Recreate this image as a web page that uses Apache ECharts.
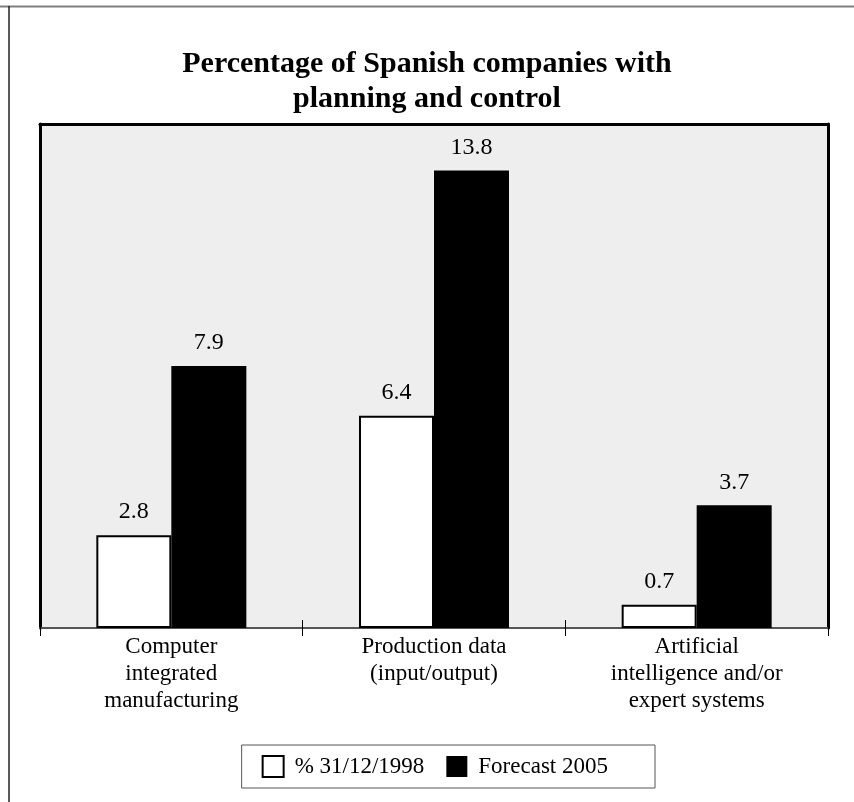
<!DOCTYPE html>
<html>
<head>
<meta charset="utf-8">
<script src="https://cdn.jsdelivr.net/npm/echarts@6/dist/echarts.min.js"></script>
<style>
html,body{margin:0;padding:0;background:#fff;}
#chart{width:854px;height:802px;}
</style>
</head>
<body>
<div id="chart"></div>
<script>
const titleText = 'Percentage of Spanish companies with\nplanning and control';
const categories = ['Computer\nintegrated\nmanufacturing', 'Production data\n(input/output)', 'Artificial\nintelligence and/or\nexpert systems'];
const seriesNames = ['% 31/12/1998', 'Forecast 2005'];
const values1998 = [2.8, 6.4, 0.7];
const values2005 = [7.9, 13.8, 3.7];

const serif = '"Liberation Serif", "DejaVu Serif", serif';
const chart = echarts.init(document.getElementById('chart'), null, {renderer: 'canvas'});

const option = {
  backgroundColor: '#ffffff',
  animation: false,
  title: {
    text: titleText,
    left: 'center',
    top: 42,
    textStyle: {fontFamily: serif, fontWeight: 'bold', fontSize: 30, lineHeight: 35, color: '#000'}
  },
  legend: {
    data: [
      {name: seriesNames[0], itemStyle: {color: '#fff', borderColor: '#000', borderWidth: 2}},
      {name: seriesNames[1], itemStyle: {color: '#000', borderWidth: 0}}
    ],
    right: 199,
    top: 745,
    orient: 'horizontal',
    icon: 'rect',
    itemWidth: 21,
    itemHeight: 21,
    itemGap: 22,
    padding: [10, 47, 10, 20],
    backgroundColor: '#fff',
    borderColor: '#555',
    borderWidth: 1,
    textStyle: {fontFamily: serif, fontSize: 23, color: '#000', padding: [0, 0, 0, 6]}
  },
  grid: {
    left: 40, right: 26, top: 124, bottom: 174,
    show: true, backgroundColor: '#eeeeee', borderWidth: 0
  },
  xAxis: [
    {
      type: 'category', data: categories, position: 'bottom',
      axisLine: {show: true, lineStyle: {color: '#555', width: 2}},
      axisTick: {show: true, inside: false, length: 8, lineStyle: {color: '#000', width: 1}},
      axisLabel: {fontFamily: serif, fontSize: 23, lineHeight: 27, color: '#000', margin: 5, interval: 0}
    },
    {
      type: 'category', data: categories, position: 'bottom',
      axisLine: {show: false},
      axisTick: {show: true, inside: true, length: 8, lineStyle: {color: '#000', width: 1}},
      axisLabel: {show: false}
    },
    {
      type: 'category', data: categories, position: 'top',
      axisLine: {show: true, lineStyle: {color: '#000', width: 3}},
      axisTick: {show: false}, axisLabel: {show: false}
    }
  ],
  yAxis: [
    {
      type: 'value', min: 0, max: 15.2, position: 'left',
      axisLine: {show: true, lineStyle: {color: '#000', width: 3}},
      axisTick: {show: false}, axisLabel: {show: false}, splitLine: {show: false}
    },
    {
      type: 'value', min: 0, max: 15.2, position: 'right',
      axisLine: {show: true, lineStyle: {color: '#000', width: 3}},
      axisTick: {show: false}, axisLabel: {show: false}, splitLine: {show: false}
    }
  ],
  series: [
    {
      name: seriesNames[0], type: 'bar', data: values1998,
      xAxisIndex: 0, yAxisIndex: 0,
      barWidth: 75, barGap: '0%',
      itemStyle: {color: '#fff', borderColor: '#000', borderWidth: 2},
      label: {show: true, position: 'top', distance: 11, fontFamily: serif, fontSize: 24, color: '#000', formatter: p => p.value.toFixed(1)}
    },
    {
      name: seriesNames[1], type: 'bar', data: values2005,
      xAxisIndex: 0, yAxisIndex: 0,
      barWidth: 75, barGap: '0%',
      itemStyle: {color: '#000', borderWidth: 0},
      label: {show: true, position: 'top', distance: 11, fontFamily: serif, fontSize: 24, color: '#000', formatter: p => p.value.toFixed(1)}
    }
  ],
  graphic: [
    {type: 'line', shape: {x1: 0, y1: 6.5, x2: 854, y2: 6.5}, style: {stroke: '#808080', lineWidth: 2}, silent: true},
    {type: 'line', shape: {x1: 9, y1: 6, x2: 9, y2: 802}, style: {stroke: '#222', lineWidth: 1.5}, silent: true}
  ]
};
chart.setOption(option);
</script>
</body>
</html>
